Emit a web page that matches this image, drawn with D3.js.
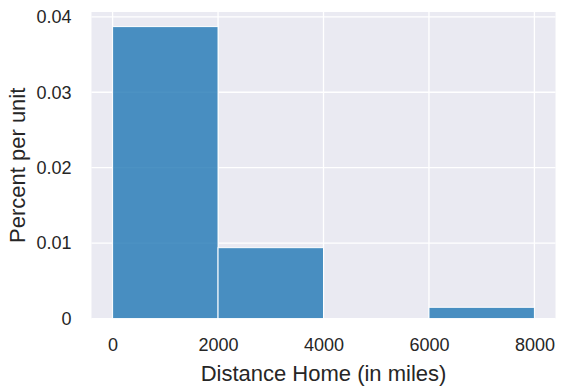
<!DOCTYPE html>
<html>
<head>
<meta charset="utf-8">
<script src="https://cdn.jsdelivr.net/npm/d3@7"></script>
<style>
  html, body { margin: 0; padding: 0; background: #fff; }
  svg { display: block; }
  text { font-family: "Liberation Sans", Arial, sans-serif; fill: #262626; }
</style>
</head>
<body>
<div id="chart"></div>
<script>
// Data
const binStarts = [0, 2000, 4000, 6000];
const binEnds = [2000, 4000, 6000, 8000];
const percentPerUnit = [0.0387, 0.0094, 0, 0.0015];
const xTicks = [0, 2000, 4000, 6000, 8000];
const yTicks = [0, 0.01, 0.02, 0.03, 0.04];
const yTickLabels = ["0", "0.01", "0.02", "0.03", "0.04"];
const xLabel = "Distance Home (in miles)";
const yLabel = "Percent per unit";

const W = 566, H = 390;
const m = { left: 91.5, right: 10.5, top: 12, bottom: 71.4 };

const svg = d3.select("#chart").append("svg").attr("width", W).attr("height", H);

const x = d3.scaleLinear().domain([-400, 8400]).range([m.left, W - m.right]);
const yMax = d3.max(percentPerUnit) * 1.05;
const y = d3.scaleLinear().domain([0, yMax]).range([H - m.bottom, m.top]);

// background
svg.append("rect")
  .attr("x", m.left).attr("y", m.top)
  .attr("width", W - m.right - m.left).attr("height", H - m.bottom - m.top)
  .attr("fill", "#eaeaf2");

// grid
const g = svg.append("g");
g.selectAll(".vg").data(xTicks).enter().append("line")
  .attr("x1", d => x(d)).attr("x2", d => x(d))
  .attr("y1", m.top).attr("y2", H - m.bottom)
  .attr("stroke", "#fff").attr("stroke-width", 1.3);
g.selectAll(".hg").data(yTicks).enter().append("line")
  .attr("x1", m.left).attr("x2", W - m.right)
  .attr("y1", d => y(d)).attr("y2", d => y(d))
  .attr("stroke", "#fff").attr("stroke-width", 1.3);

// bars
svg.append("g").selectAll("rect").data(percentPerUnit).enter().append("rect")
  .attr("x", (d, i) => x(binStarts[i]))
  .attr("width", (d, i) => x(binEnds[i]) - x(binStarts[i]))
  .attr("y", d => y(d))
  .attr("height", d => y(0) - y(d))
  .attr("fill", "#1f77b4").attr("fill-opacity", 0.8)
  .attr("stroke", "#fff").attr("stroke-width", d => d > 0 ? 1 : 0);

// axes
const xAxis = d3.axisBottom(x).tickValues(xTicks).tickSize(0).tickPadding(20).tickFormat(d3.format("d"));
const xg = svg.append("g").attr("transform", `translate(0,${H - m.bottom})`).call(xAxis);
xg.select(".domain").remove();
xg.selectAll("text").style("font-size", "18px").attr("fill", "#262626");

const yAxis = d3.axisLeft(y).tickValues(yTicks).tickSize(0).tickPadding(20)
  .tickFormat((d, i) => yTickLabels[i]);
const yg = svg.append("g").attr("transform", `translate(${m.left},0)`).call(yAxis);
yg.select(".domain").remove();
yg.selectAll("text").style("font-size", "18px").attr("fill", "#262626");

// labels
svg.append("text").attr("x", (m.left + W - m.right) / 2).attr("y", 381)
  .attr("text-anchor", "middle").style("font-size", "22px").text(xLabel);
svg.append("text").attr("transform", `translate(25,${(m.top + H - m.bottom) / 2}) rotate(-90)`)
  .attr("text-anchor", "middle").style("font-size", "22px").text(yLabel);
</script>
</body>
</html>
